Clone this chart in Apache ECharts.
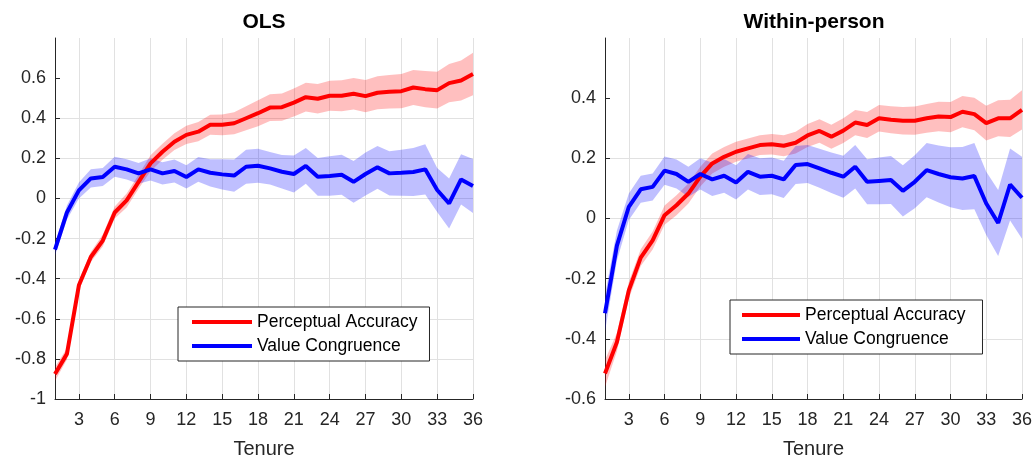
<!DOCTYPE html>
<html>
<head>
<meta charset="utf-8">
<script src="https://cdn.jsdelivr.net/npm/echarts@6/dist/echarts.min.js"></script>
<style>
  html, body { margin: 0; padding: 0; background: #fff; }
  #main { width: 1036px; height: 460px; }
</style>
</head>
<body>
<div id="main"></div>
<script>
// tenure in months
var tenure = [];
for (var i = 1; i <= 36; i++) tenure.push(String(i));

// OLS panel
var olsAccuracy = [-0.875, -0.775, -0.433, -0.292, -0.21, -0.07, -0.01, 0.083, 0.175, 0.233, 0.283, 0.317,
    0.333, 0.367, 0.367, 0.375, 0.40, 0.425, 0.453, 0.455, 0.478, 0.505, 0.497, 0.512,
    0.512, 0.522, 0.51, 0.527, 0.532, 0.535, 0.553, 0.545, 0.54, 0.575, 0.588, 0.62];
var olsAccuracyCI = [0.035, 0.028, 0.025, 0.025, 0.03, 0.03, 0.035, 0.035, 0.04, 0.04, 0.042, 0.045,
    0.048, 0.05, 0.052, 0.055, 0.06, 0.065, 0.067, 0.068, 0.07, 0.072, 0.074, 0.075,
    0.077, 0.078, 0.08, 0.082, 0.083, 0.085, 0.087, 0.09, 0.092, 0.095, 0.1, 0.106];
var olsCongruence = [-0.255, -0.07, 0.04, 0.10, 0.107, 0.158, 0.145, 0.125, 0.145, 0.125, 0.137, 0.107,
    0.145, 0.128, 0.12, 0.114, 0.158, 0.163, 0.15, 0.133, 0.122, 0.162, 0.108, 0.112,
    0.118, 0.083, 0.122, 0.155, 0.125, 0.128, 0.132, 0.145, 0.042, -0.025, 0.095, 0.062];
var olsCongruenceCI = [0.03, 0.035, 0.04, 0.045, 0.045, 0.05, 0.05, 0.052, 0.055, 0.055, 0.057, 0.058,
    0.062, 0.068, 0.075, 0.08, 0.085, 0.085, 0.081, 0.083, 0.092, 0.089, 0.094, 0.098,
    0.1, 0.104, 0.107, 0.107, 0.11, 0.115, 0.12, 0.125, 0.11, 0.125, 0.125, 0.135];

// Within-person panel
var wpAccuracy = [-0.515, -0.411, -0.239, -0.13, -0.073, 0.011, 0.044, 0.083, 0.139, 0.183, 0.205, 0.222,
    0.233, 0.244, 0.247, 0.242, 0.252, 0.276, 0.291, 0.272, 0.292, 0.319, 0.311, 0.333,
    0.328, 0.325, 0.325, 0.333, 0.339, 0.337, 0.355, 0.347, 0.317, 0.333, 0.333, 0.361];
var wpAccuracyCI = [0.045, 0.03, 0.028, 0.028, 0.03, 0.032, 0.033, 0.033, 0.033, 0.033, 0.033, 0.033,
    0.033, 0.033, 0.034, 0.035, 0.036, 0.038, 0.039, 0.04, 0.041, 0.042, 0.043, 0.044,
    0.045, 0.046, 0.047, 0.048, 0.049, 0.05, 0.052, 0.054, 0.058, 0.06, 0.062, 0.065];
var wpCongruence = [-0.315, -0.09, 0.039, 0.097, 0.105, 0.159, 0.148, 0.122, 0.148, 0.13, 0.142, 0.12,
    0.155, 0.139, 0.142, 0.13, 0.178, 0.181, 0.167, 0.152, 0.139, 0.172, 0.122, 0.125,
    0.128, 0.092, 0.122, 0.161, 0.148, 0.137, 0.133, 0.141, 0.05, -0.015, 0.113, 0.069];
var wpCongruenceCI = [0.06, 0.05, 0.044, 0.045, 0.045, 0.047, 0.048, 0.05, 0.052, 0.055, 0.056, 0.057,
    0.059, 0.061, 0.061, 0.062, 0.063, 0.063, 0.065, 0.067, 0.07, 0.072, 0.075, 0.078,
    0.08, 0.085, 0.088, 0.09, 0.095, 0.1, 0.105, 0.11, 0.105, 0.11, 0.12, 0.136];

var panelTitles = ['OLS', 'Within-person'];
var legendNames = ['Perceptual Accuracy', 'Value Congruence'];

var RED = '#ff0000', BLUE = '#0000ff';
var AXIS = '#262626', GRID = '#e1e1e1';
var FONT = '"Liberation Sans", Arial, Helvetica, sans-serif';

function every3(idx) { return (idx + 1) % 3 === 0; }

function xAxisFor(g) {
    return {
        type: 'category', gridIndex: g, data: tenure, boundaryGap: false,
        name: 'Tenure', nameLocation: 'middle', nameGap: 40,
        nameTextStyle: { fontSize: 20, color: AXIS, fontFamily: FONT },
        axisLine: { onZero: false, lineStyle: { color: AXIS, width: 1 } },
        axisTick: { inside: true, length: 5, interval: every3, lineStyle: { color: AXIS } },
        axisLabel: { interval: every3, margin: 12, fontSize: 18, color: AXIS, fontFamily: FONT },
        splitLine: { show: true, interval: every3, lineStyle: { color: GRID } }
    };
}

function yAxisFor(g, mn, mx) {
    return {
        type: 'value', gridIndex: g, min: mn, max: mx, interval: 0.2,
        axisLine: { show: true, lineStyle: { color: AXIS, width: 1 } },
        axisTick: {
            show: true, inside: true, length: 5, lineStyle: { color: AXIS },
            customValues: [-1, -0.8, -0.6, -0.4, -0.2, 0, 0.2, 0.4, 0.6].filter(function (v) { return v >= mn && v < mx - 0.01; })
        },
        axisLabel: {
            margin: 9, fontSize: 18, color: AXIS, fontFamily: FONT,
            formatter: function (v) { return v > mx - 0.01 ? '' : String(+v.toFixed(1)); }
        },
        splitLine: { show: true, showMaxLine: false, lineStyle: { color: GRID } }
    };
}

// shaded band = invisible lower bound + stacked (upper - lower) area
function band(g, key, mean, ci, color) {
    var lower = mean.map(function (v, i) { return +(v - ci[i]).toFixed(4); });
    var width = ci.map(function (c) { return +(2 * c).toFixed(4); });
    var common = {
        type: 'line', xAxisIndex: g, yAxisIndex: g, stack: key, stackStrategy: 'all',
        symbol: 'none', silent: true, lineStyle: { width: 0, opacity: 0 }, z: 1
    };
    return [
        Object.assign({ name: key + '-lo', data: lower }, common),
        Object.assign({ name: key + '-band', data: width, areaStyle: { color: color, opacity: 1 } }, common)
    ];
}

function mainLine(g, name, data, color, z) {
    return {
        type: 'line', name: name, xAxisIndex: g, yAxisIndex: g, data: data,
        symbol: 'none', color: color, itemStyle: { color: color },
        lineStyle: { color: color, width: 4 }, z: z
    };
}

function legendFor(left, top, itemWidth, padding) {
    return {
        left: left, top: top, orient: 'vertical', data: legendNames, selectedMode: false,
        icon: 'rect', itemWidth: itemWidth, itemHeight: 4, itemGap: 6,
        padding: padding, borderColor: AXIS, borderWidth: 1, backgroundColor: '#fff',
        textStyle: { fontSize: 17.5, color: '#000', fontFamily: FONT }
    };
}

var series = [].concat(
    band(0, 'olsAcc', olsAccuracy, olsAccuracyCI, 'rgba(255,0,0,0.25)'),
    band(0, 'olsCon', olsCongruence, olsCongruenceCI, 'rgba(0,0,255,0.25)'),
    band(1, 'wpAcc', wpAccuracy, wpAccuracyCI, 'rgba(255,0,0,0.25)'),
    band(1, 'wpCon', wpCongruence, wpCongruenceCI, 'rgba(0,0,255,0.25)'),
    [
        mainLine(0, legendNames[0], olsAccuracy, RED, 3),
        mainLine(0, legendNames[1], olsCongruence, BLUE, 4),
        mainLine(1, legendNames[0], wpAccuracy, RED, 3),
        mainLine(1, legendNames[1], wpCongruence, BLUE, 4)
    ]
);

var chart = echarts.init(document.getElementById('main'), null, { renderer: 'canvas' });
chart.setOption({
    backgroundColor: '#fff',
    animation: false,
    title: [
        { text: panelTitles[0], left: 264, top: 12, textAlign: 'center', padding: 0,
          textStyle: { fontSize: 21, fontWeight: 'bold', color: '#000', fontFamily: FONT } },
        { text: panelTitles[1], left: 814, top: 12, textAlign: 'center', padding: 0,
          textStyle: { fontSize: 21, fontWeight: 'bold', color: '#000', fontFamily: FONT } }
    ],
    grid: [
        { left: 55, top: 38, width: 418, height: 361, outerBoundsMode: 'none', containLabel: false },
        { left: 605, top: 38, width: 417, height: 361, outerBoundsMode: 'none', containLabel: false }
    ],
    legend: [
        legendFor(178, 307, 60, [6, 12, 6, 14]),
        legendFor(730, 300, 58, [6, 17, 6, 12])
    ],
    xAxis: [xAxisFor(0), xAxisFor(1)],
    yAxis: [yAxisFor(0, -1, 0.8), yAxisFor(1, -0.6, 0.6)],
    series: series
});
</script>
</body>
</html>
